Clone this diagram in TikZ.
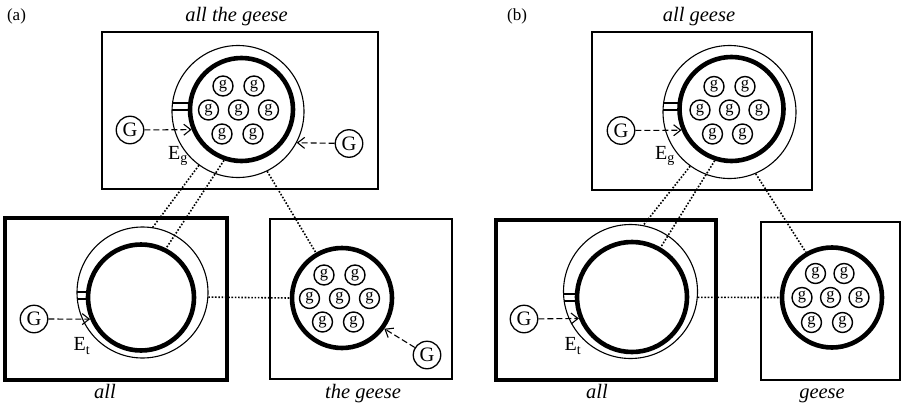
\documentclass[tikz,border=0pt]{standalone}
\usepackage{fontspec}
\setmainfont{Liberation Serif}
\usetikzlibrary{arrows.meta}
\tikzset{
  box/.style={draw, line width=1.2pt},
  boxthick/.style={draw, line width=3.8pt},
  ring/.style={circle, draw, line width=1.1pt, inner sep=0pt},
  core/.style={circle, draw, line width=4.6pt, inner sep=0pt},
  gc/.style={circle, draw, line width=1.4pt, inner sep=0pt, minimum size=20pt, font=\fontsize{16.5}{16.5}\selectfont},
  Gc/.style={circle, draw, line width=1.3pt, inner sep=0pt, minimum size=27.5pt, font=\fontsize{20.5}{20.5}\selectfont},
  darr/.style={line width=1.1pt, dash pattern=on 6pt off 3pt, -{Straight Barb[length=7pt,width=11pt,line width=1.1pt]}},
  dots/.style={line width=1.6pt, dash pattern=on 1.6pt off 1.7pt},
  slot/.style={line width=1.1pt},
  lbl/.style={font=\fontsize{20.5}{20.5}\selectfont\itshape, anchor=base},
  tag/.style={font=\fontsize{17}{17}\selectfont, anchor=base},
  elbl/.style={font=\fontsize{20}{20}\selectfont, inner sep=0pt}
}
\begin{document}
\begin{tikzpicture}[x=1pt,y=-1pt]
\useasboundingbox (0,0) rectangle (904,404);
% ---------------- panel (a) ----------------
\node[tag] (ta) at (16.5,21) {(a)};
\node[lbl] (tat) at (236.5,22) {all the geese};
\draw[box] (102,32) rectangle (378,189);
\node[ring, minimum size=132pt] (tao) at (238,111.5) {};
\draw[slot] (172,103) -- (190,103);
\draw[slot] (172,110) -- (190,110);
\node[core, minimum size=103pt] (tai) at (241.5,109.5) {};
\coordinate (tagc) at (238.5,110);
\foreach \dx/\dy [count=\k] in {-15.5/-24, 15.5/-24, -30/0, 0/0, 30/0, -16.5/24, 14.5/24}
  \node[gc] (tag\k) at ([shift={(\dx,\dy)}]tagc) {g};
\node[Gc] (taG1) at (130,130) {G};
\draw[darr] (taG1) -- (tai.202);
\node[Gc] (taG2) at (349,143.5) {G};
\draw[darr] (taG2) -- (tao.-28);
\node[elbl] (taE) at (178,156) {E\textsubscript{g}};

\draw[boxthick] (5,218) rectangle (227,380);
\node[ring, minimum size=131pt] (bao) at (142.5,292.5) {};
\draw[slot] (77,292) -- (89,292);
\draw[slot] (77.3,299) -- (89,299);
\node[core, minimum size=106pt] (bai) at (141,297.5) {};
\node[Gc] (baG) at (34,319) {G};
\draw[darr] (baG) -- (bai.203);
\node[elbl] (baE) at (82,346) {E\textsubscript{t}};
\node[lbl] (bal) at (105,398) {all};

\draw[box] (270,219) rectangle (452,379);
\node[core, minimum size=100pt] (ca) at (342,298) {};
\coordinate (cagc) at (339.5,298.5);
\foreach \dx/\dy [count=\k] in {-15.5/-23.5, 15.5/-23.5, -30/0, 0/0, 30/0, -17/23.5, 14/23.5}
  \node[gc] (cag\k) at ([shift={(\dx,\dy)}]cagc) {g};
\node[Gc] (caG) at (427,355) {G};
\draw[darr] (caG) -- (ca.-36);
\node[lbl] (cal) at (363,398) {the geese};

\draw[dots] (tao.234) -- (bao.81);
\draw[dots] (tai.251) -- (bai.63);
\draw[dots] (tao.296) -- (ca.120);
\draw[dots] (bao.-4) -- (ca.180);

% ---------------- panel (b) ----------------
\node[tag] (tb) at (517,21) {(b)};
\node[lbl] (tbt) at (699,22) {all geese};
\draw[box] (592,32) rectangle (812,190);
\node[ring, minimum size=133pt] (tbo) at (729.5,112) {};
\draw[slot] (663.6,103) -- (680,103);
\draw[slot] (663,110) -- (680,110);
\node[core, minimum size=104pt] (tbi) at (731.5,109) {};
\coordinate (tbgc) at (729.5,110);
\foreach \dx/\dy [count=\k] in {-15.5/-23.5, 15.5/-23.5, -29.5/0, 0/0, 29.5/0, -17/24, 13/24}
  \node[gc] (tbg\k) at ([shift={(\dx,\dy)}]tbgc) {g};
\node[Gc] (tbG) at (621,130.5) {G};
\draw[darr] (tbG) -- (tbi.203);
\node[elbl] (tbE) at (665,156) {E\textsubscript{g}};

\draw[boxthick] (496,220) rectangle (716,380);
\node[ring, minimum size=134pt] (beo) at (630.5,291.5) {};
\draw[slot] (563.5,294) -- (578,294);
\draw[slot] (564.2,301) -- (578,301);
\node[core, minimum size=110pt] (bei) at (632,297) {};
\node[Gc] (beG) at (524,319) {G};
\draw[darr] (beG) -- (bei.202.5);
\node[elbl] (beE) at (573,346) {E\textsubscript{t}};
\node[lbl] (bel) at (597,398) {all};

\draw[box] (761,222) rectangle (900,380);
\node[core, minimum size=100pt] (cb) at (832,297.5) {};
\coordinate (cbgc) at (830.5,297.5);
\foreach \dx/\dy [count=\k] in {-15/-24, 13.5/-24, -28.5/0, 0/0, 28.5/0, -19/25, 12/25}
  \node[gc] (cbg\k) at ([shift={(\dx,\dy)}]cbgc) {g};
\node[lbl] (cbl) at (822,398) {geese};

\draw[dots] (tbo.234) -- (beo.79);
\draw[dots] (tbi.252) -- (bei.60);
\draw[dots] (tbo.293) -- (cb.120);
\draw[dots] (beo.-5) -- (cb.180);
\end{tikzpicture}
\end{document}
